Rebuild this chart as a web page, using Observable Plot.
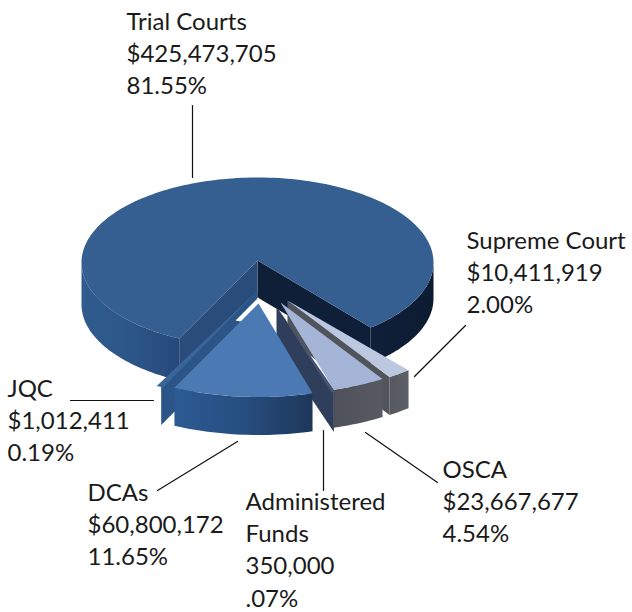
<!DOCTYPE html>
<html>
<head>
<meta charset="utf-8">
<script src="https://cdn.jsdelivr.net/npm/d3@7"></script>
<script src="https://cdn.jsdelivr.net/npm/@observablehq/plot@0.6"></script>
<style>html,body{margin:0;padding:0;background:#fff}svg{display:block}</style>
</head>
<body>
<div id="chart"></div>
<script>
// Data
const names = ["Trial Courts", "Supreme Court", "OSCA", "Administered\nFunds", "DCAs", "JQC"];
const amounts = ["$425,473,705", "$10,411,919", "$23,667,677", "350,000", "$60,800,172", "$1,012,411"];
const pctLabels = ["81.55%", "2.00%", "4.54%", ".07%", "11.65%", "0.19%"];
const shares = [81.55, 2.00, 4.54, 0.07, 11.65, 0.19];

// Slices run clockwise on screen; the Trial Courts slice ends where Supreme Court begins.
const startDeg = 50;
const deg = Math.PI / 180;
const total = d3.sum(shares);
const bounds = {};
{
  let a = startDeg;
  for (const i of [1, 2, 3, 4, 5, 0]) {
    const b = a + shares[i] / total * 360;
    bounds[i] = [a, b];
    a = b;
  }
}

// Pie projection
const RX = 176, RY = 85, DEPTH = 38;
const pt = (c, a, f = 1, dy = 0) => ({x: c[0] + RX * f * Math.cos(a * deg), y: c[1] + RY * f * Math.sin(a * deg) + dy});

function poly(points, fill) {
  return Plot.line(points, {x: "x", y: "y", fill, stroke: "none", curve: "linear-closed", imageFilter: "blur(0.45px)"});
}
function arc(c, a0, a1, f, dy = 0) {
  const n = Math.max(2, Math.ceil(Math.abs(a1 - a0) / 1.5));
  return d3.range(n + 1).map(k => pt(c, a0 + (a1 - a0) * k / n, f, dy));
}
function face(c, a0, a1, f, fill, apex = c) {
  return poly([{x: apex[0], y: apex[1]}, ...arc(c, a0, a1, f)], fill);
}
function band(c, a0, a1, f, fill, d = DEPTH) {
  return poly([...arc(c, a0, a1, f), ...arc(c, a1, a0, f, d)], fill);
}
function wall(c, a, f, fill, d = DEPTH, arcC = c) {
  const o = pt(arcC, a, f);
  return poly([{x: c[0], y: c[1]}, {x: c[0], y: c[1] + d}, {x: o.x, y: o.y + d}, o], fill);
}

// Horizontal shading for the curved sides
const gradients = {
  mainLeft: ["#2f5b8e", "#2d5688", "#26497a"],
  mainRight: ["#10203a", "#0d1b31"],
  dca: ["#2c5a94", "#274e80", "#1d3759"],
  osca: ["#4e5159", "#585a62"],
  sup: ["#565860", "#5e6068"]
};
const defs = () => {
  const d = d3.create("svg:defs");
  for (const [id, stops] of Object.entries(gradients)) {
    const g = d.append("linearGradient").attr("id", id).attr("x1", 0).attr("x2", 1).attr("y1", 0).attr("y2", 0);
    stops.forEach((c, i) => g.append("stop").attr("offset", i / (stops.length - 1)).attr("stop-color", c));
  }
  return d.node();
};

const cMain = [257, 262], apexMain = [257, 260], cSup = [287, 300], cOsca = [280, 302], cAdm = [281, 306], apexAdm = [276, 306], cDca = [258, 303], cJqc = [257, 290];
const [s0, s1] = bounds[0];   // Trial Courts runs from s0 to s1 (+360)
const aTrialStart = s0 % 360, aTrialEnd = s1 % 360;

const marks = [
  defs,
  // Trial Courts
  band(cMain, aTrialStart, 180, 1, "url(#mainLeft)", 42),
  band(cMain, 0, aTrialEnd, 1, "url(#mainRight)", 36),
  wall(apexMain, aTrialEnd, 1, "#0f1f38", 37, cMain),
  wall(apexMain, aTrialStart, 1, "#294c7b", 37, cMain),
  face(cMain, aTrialStart, aTrialEnd + 360, 1, "#355f90", apexMain),
  // JQC
  wall(cJqc, bounds[5][0], 1.26, "#2c5587"),
  face(cJqc, bounds[5][0] - 0.6, bounds[5][1] + 0.6, 1.26, "#3a6598"),
  // gap at the point of the exploded slices
  face([258, 297], bounds[3][1], bounds[4][1], 0.3, "#ffffff"),
  // Supreme Court
  wall(cSup, bounds[1][1], 1.07, "#50555c"),
  band(cSup, bounds[1][0], bounds[1][1], 1.07, "url(#sup)"),
  face(cSup, bounds[1][0], bounds[1][1], 1.07, "#bcc8df"),
  // Administered Funds
  wall(apexAdm, bounds[3][0], 1.05, "#2f3e5a", 40, cAdm),
  face(cAdm, bounds[3][0] - 0.5, bounds[3][1] + 0.5, 1.05, "#465470", apexAdm),
  // OSCA
  band(cOsca, bounds[2][0], bounds[2][1], 1.07, "url(#osca)"),
  face(cOsca, bounds[2][0], bounds[2][1], 1.07, "#a4b5d7"),
  // DCAs
  band(cDca, bounds[4][0], bounds[4][1], 1.1, "url(#dca)"),
  face(cDca, bounds[4][0], bounds[4][1], 1.1, "#4a79b3")
];

// Labels
const labelAt = [[126, 6], [466, 225], [442, 454], [245, 486], [87, 477], [7, 373]];
const labels = names.map((n, i) => ({text: `${n}\n${amounts[i]}\n${pctLabels[i]}`, x: labelAt[i][0], y: labelAt[i][1]}));
// Leader lines
const leaders = [
  [[192, 105], [192, 177]],
  [[465, 325], [414, 376]],
  [[437, 482], [365, 432]],
  [[323, 490], [323, 430]],
  [[157, 490], [237, 441]],
  [[70, 400], [153, 400]]
];

const chart = Plot.plot({
  width: 632, height: 612,
  margin: 0,
  x: {domain: [0, 632], range: [0, 632], axis: null},
  y: {domain: [0, 612], range: [0, 612], axis: null},
  style: {background: "#ffffff"},
  marks: [
    ...marks,
    ...leaders.map(l => Plot.line(l, {x: d => d[0], y: d => d[1], stroke: "#111", strokeWidth: 1.2})),
    Plot.text(labels, {
      x: "x", y: "y", text: "text",
      textAnchor: "start", lineAnchor: "top", lineHeight: 1.35,
      fontSize: 24, fontFamily: "Lato, 'Open Sans', sans-serif", fill: "#1a1a1a"
    })
  ]
});
document.getElementById("chart").append(chart);
</script>
</body>
</html>
